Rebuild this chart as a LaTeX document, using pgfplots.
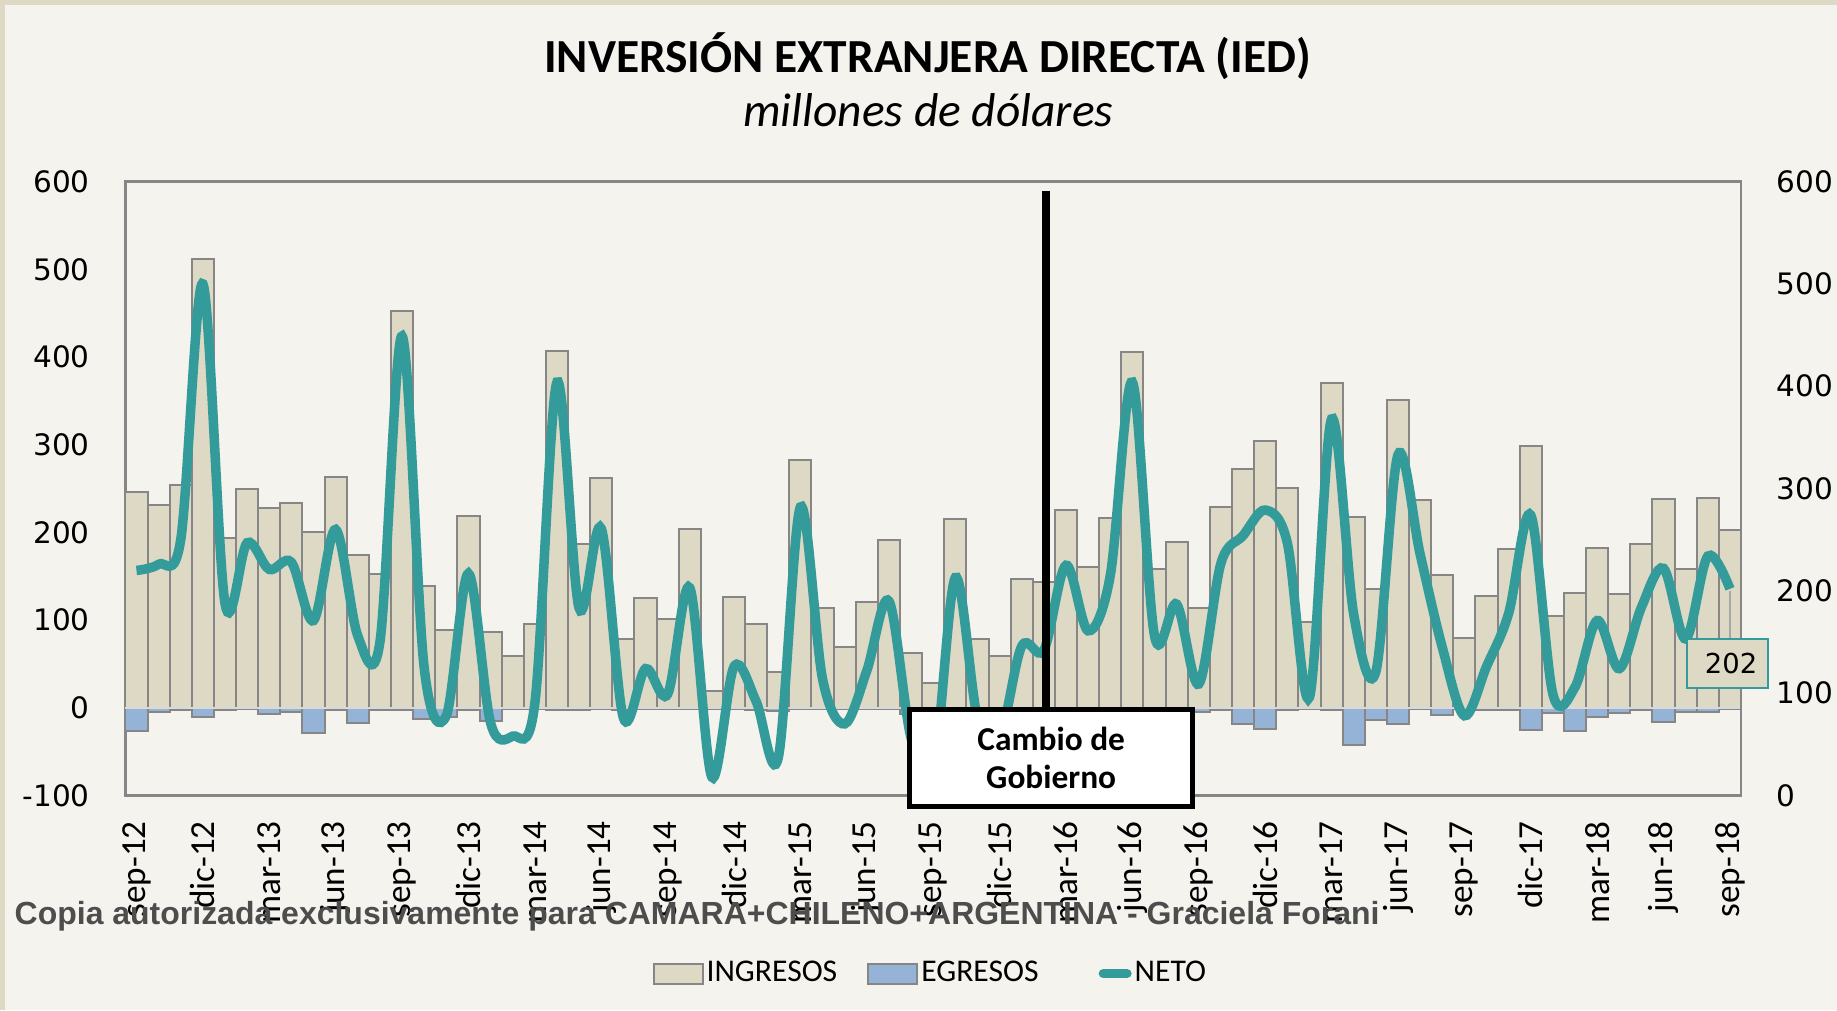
\documentclass[border=0pt]{standalone}
\usepackage{pgfplots}
\pgfplotsset{compat=1.18}
\usepackage{pgfplotstable}
\usepackage{fontspec}
\setmainfont{Carlito}
\newfontfamily\numfont{DejaVu Sans}
\newfontfamily\wmfont{Liberation Sans}

\definecolor{bg}{RGB}{244,243,238}
\definecolor{ing}{RGB}{221,217,196}
\definecolor{egr}{RGB}{149,179,215}
\definecolor{neto}{RGB}{52,155,155}
\definecolor{edge}{RGB}{134,134,134}
\definecolor{wm}{RGB}{77,77,77}

% IED mensual, millones de USD (sep-12 .. sep-18)
\pgfplotstableread{
x ing egr neto
0 246 -26 220
1 231 -5 226
2 254 -3 250
3 512 -10 500
4 194 -3 188
5 249 -1 247
6 228 -7 221
7 233 -5 228
8 200 -29 171
9 263 -2 260
10 174 -17 156
11 153 -2 150
12 453 -2 449
13 139 -13 125
14 89 -11 78
15 219 -2 217
16 87 -15 71
17 59 -1 58
18 95 -1 90
19 407 -2 404
20 187 -3 183
21 262 -1 261
22 79 -2 76
23 125 -1 124
24 101 -1 99
25 204 -1 203
26 19 -1 18
27 126 -1 126
28 96 -3 92
29 41 -4 37
30 283 -1 282
31 114 -1 114
32 69 -1 70
33 121 -1 122
34 191 -1 190
35 63 -7 56
36 28 -2 22
37 215 -1 213
38 78 -1 76
39 59 -1 57
40 147 -1 146
41 143 -1 142
42 226 -1 225
43 161 -1 161
44 216 -1 215
45 406 -2 404
46 158 -2 156
47 189 -2 187
48 114 -5 109
49 229 -2 227
50 272 -18 254
51 304 -24 279
52 251 -3 247
53 98 -1 96
54 370 -2 368
55 218 -42 177
56 135 -14 121
57 351 -18 333
58 237 -1 236
59 151 -8 145
60 80 -1 78
61 128 -2 126
62 181 -3 178
63 299 -25 274
64 105 -6 99
65 131 -26 106
66 182 -11 171
67 130 -6 124
68 187 -3 184
69 238 -16 222
70 158 -5 153
71 239 -5 234
72 203 -1 202
}\ied

\begin{document}
\begin{tikzpicture}
% fondo y marco
\path[use as bounding box, fill=bg] (-12.54mm,-21.45mm) rectangle (171.16mm,79.55mm);
\fill[ing] (-12.54mm,-21.45mm) rectangle (-12.04mm,79.55mm);
\fill[ing] (-12.54mm,79.05mm) rectangle (171.16mm,79.55mm);

\begin{axis}[
    at={(0,0)}, anchor=south west,
    scale only axis, width=161.56mm, height=61.39mm,
    xmin=-0.5, xmax=72.5, ymin=-100, ymax=600,
    ytick={-100,0,...,600},
    xtick={0,3,...,72},
    xticklabels={sep-12,dic-12,mar-13,jun-13,sep-13,dic-13,mar-14,jun-14,sep-14,dic-14,mar-15,jun-15,sep-15,dic-15,mar-16,jun-16,sep-16,dic-16,mar-17,jun-17,sep-17,dic-17,mar-18,jun-18,sep-18},
    major tick length=0pt,
    x tick label style={rotate=90, anchor=east, inner sep=0pt, font=\fontsize{10}{12}\selectfont},
    xticklabel shift=2.5mm,
    y tick label style={anchor=east, inner sep=0pt, font=\numfont\fontsize{8.4}{10}\selectfont},
    yticklabel shift=3.5mm,
    /pgf/number format/assume math mode=true,
    axis line style={draw=edge, line width=0.25mm},
    ybar, bar width=1,
    clip=false,
    legend style={at={(0.4985,-0.29)}, anchor=center, draw=none, fill=none,
        legend columns=3, font=\fontsize{9}{11}\selectfont,
        nodes={inner sep=0.3mm},
        /tikz/every odd column/.append style={column sep=0mm},
        /tikz/every even column/.append style={column sep=2.7mm}},
]
\addplot[fill=ing, draw=edge, line width=0.2mm, bar shift=0pt,
    legend image code/.code={\draw[fill=ing, draw=edge, line width=0.2mm] (0mm,-1mm) rectangle (4.9mm,1mm);}]
    table[x=x, y=ing]{\ied};
\addlegendentry{INGRESOS}
\addplot[fill=egr, draw=edge, line width=0.2mm, bar shift=0pt,
    legend image code/.code={\draw[fill=egr, draw=edge, line width=0.2mm] (0mm,-1mm) rectangle (4.9mm,1mm);}]
    table[x=x, y=egr]{\ied};
\addlegendentry{EGRESOS}
\addlegendimage{legend image code/.code={\path[draw=none] (0mm,0mm) -- (6.3mm,0mm);
    \draw[neto, line width=0.95mm, line cap=round] (3.48mm,0mm) -- (5.83mm,0mm);}}
\addlegendentry{NETO}
\draw[black!15, line width=0.2mm] (axis cs:-0.5,0) -- (axis cs:72.5,0);
\end{axis}

\begin{axis}[
    at={(0,0)}, anchor=south west,
    scale only axis, width=161.56mm, height=61.39mm,
    xmin=-0.5, xmax=72.5, ymin=0, ymax=600,
    axis x line=none, axis y line*=right,
    ytick={0,100,...,600},
    major tick length=0pt,
    y tick label style={anchor=west, inner sep=0pt, font=\numfont\fontsize{8.4}{10}\selectfont},
    yticklabel shift=3.5mm,
    /pgf/number format/assume math mode=true,
    axis line style={draw=edge, line width=0.25mm},
    clip=false,
]
\addplot[neto, line width=0.95mm, smooth, tension=0.55, no markers]
    table[x=x, y=neto]{\ied};
% cambio de gobierno
\draw[black, line width=0.8mm] (axis cs:41.1,590.7) -- (axis cs:41.1,84.5);
\draw[black, fill=white, line width=0.5mm] (axis cs:34.94,-11.2) rectangle (axis cs:47.72,84.5);
\node[align=center, font=\bfseries\fontsize{9.5}{10.8}\selectfont] at (axis cs:41.33,36.6) {Cambio de\\Gobierno};
% etiqueta del ultimo dato
\draw[black!35, line width=0.15mm] (axis cs:72,200) -- (axis cs:72,153.4);
\draw[neto, fill=ing, line width=0.2mm] (axis cs:70.08,105.3) rectangle (axis cs:73.74,153.4);
\node[font=\numfont\fontsize{7.8}{9}\selectfont] at (axis cs:72.05,129.3) {202};
\end{axis}

% titulos
\node[anchor=base, font=\bfseries\fontsize{13.5}{16}\selectfont] at (80.2mm,72.29mm) {INVERSIÓN EXTRANJERA DIRECTA (IED)};
\node[anchor=base, font=\itshape\fontsize{13.5}{16}\selectfont] at (80.3mm,66.9mm) {millones de dólares};
% marca de agua
\node[anchor=base west, inner sep=0pt, text=wm, font=\wmfont\bfseries\fontsize{9.1}{11}\selectfont] at (-11.14mm,-12.85mm) {Copia autorizada exclusivamente para CAMARA+CHILENO+ARGENTINA - Graciela Forani};
\end{tikzpicture}
\end{document}
